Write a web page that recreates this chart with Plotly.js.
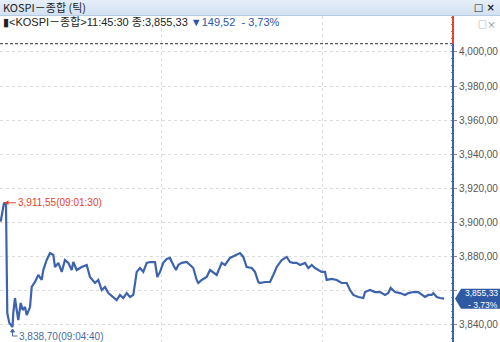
<!DOCTYPE html>
<html><head><meta charset="utf-8">
<script src="https://cdn.plot.ly/plotly-3.0.1.min.js"></script>
<style>
html,body{margin:0;padding:0;background:#fff;width:500px;height:342px;overflow:hidden;}
#bar{position:absolute;left:0;top:0;width:500px;height:15px;background:linear-gradient(#e6eff9,#d2e1f1);border-bottom:1px solid #b7cbe3;font-family:"Noto Sans CJK KR","Liberation Sans",sans-serif;font-size:11px;line-height:15px;color:#222;}
#bar .t{position:absolute;left:3px;top:0;}
#bar .b{position:absolute;right:5px;top:1px;font-weight:bold;font-size:10px;line-height:13px;font-family:"DejaVu Sans",sans-serif;}
#chart{position:absolute;left:0;top:16px;width:500px;height:326px;}
</style></head>
<body>
<div id="bar"><span class="t">KOSPI－종합 (틱)</span><span class="b">□ ×</span></div>
<div id="chart"></div>
<script>
// ---- data ----
const day = "2025-11-04";
const times = ["09:00:16","09:01:30","09:02:14","09:02:30","09:02:43","09:03:28","09:04:40","09:04:57","09:05:35","09:06:13","09:06:49","09:07:43","09:08:28","09:09:19","09:09:57","09:11:11","09:11:49","09:13:03","09:14:16","09:15:32","09:16:08","09:17:24","09:18:38","09:19:52","09:20:30","09:21:44","09:23:00","09:24:13","09:25:27","09:26:43","09:27:19","09:28:35","09:30:27","09:32:19","09:33:32","09:35:24","09:36:38","09:37:54","09:39:08","09:40:22","09:42:13","09:43:29","09:44:43","09:45:57","09:47:13","09:48:27","09:49:41","09:50:19","09:50:57","09:52:10","09:53:24","09:54:40","09:55:54","09:57:46","09:58:37","09:59:38","10:00:51","10:02:07","10:03:21","10:04:35","10:05:35","10:06:27","10:07:43","10:09:35","10:10:48","10:12:02","10:13:18","10:13:54","10:15:10","10:17:02","10:18:16","10:19:29","10:20:45","10:22:37","10:23:51","10:25:43","10:27:35","10:29:26","10:30:40","10:31:56","10:33:48","10:35:02","10:36:16","10:36:54","10:38:45","10:40:37","10:41:51","10:43:07","10:44:59","10:46:51","10:48:04","10:49:18","10:50:34","10:51:48","10:53:40","10:54:54","10:56:10","10:57:23","10:58:37","10:59:53","11:01:07","11:01:45","11:03:37","11:05:29","11:07:20","11:09:12","11:10:26","11:11:40","11:13:32","11:15:24","11:16:01","11:17:53","11:19:45","11:21:37","11:23:29","11:24:42","11:25:36","11:27:12","11:29:04","11:30:56","11:32:10","11:34:01","11:35:53","11:37:09","11:38:23","11:39:37","11:40:53","11:41:29","11:42:45","11:43:58","11:45:30"];
const values = [3900.5,3911.55,3910.3,3885.6,3846.9,3841.1,3838.70,3846.9,3855.7,3848.7,3842.8,3852.8,3848.7,3850.4,3845.7,3850.4,3862.2,3865.1,3869.2,3866.3,3872.1,3878.0,3882.1,3880.9,3873.9,3876.3,3871.0,3878.0,3876.3,3872.1,3876.8,3872.1,3873.9,3875.1,3868.0,3864.5,3866.3,3860.4,3862.2,3858.6,3856.3,3854.5,3857.5,3855.7,3858.6,3856.3,3857.5,3864.5,3871.0,3873.3,3871.0,3876.3,3876.8,3876.8,3868.0,3871.0,3876.3,3878.6,3879.2,3875.1,3872.1,3875.1,3876.3,3876.8,3875.1,3873.3,3866.3,3864.5,3866.3,3868.0,3872.1,3870.4,3869.2,3876.3,3875.1,3879.2,3880.9,3882.1,3879.8,3873.9,3873.3,3871.0,3865.1,3864.5,3865.1,3865.1,3869.2,3873.9,3878.0,3879.8,3876.8,3876.3,3876.3,3875.1,3876.3,3873.3,3875.1,3873.3,3872.1,3871.0,3871.0,3866.3,3866.9,3866.3,3864.5,3864.5,3860.4,3857.5,3856.3,3855.7,3859.2,3860.4,3859.2,3859.2,3857.5,3858.6,3861.6,3859.2,3858.6,3857.5,3858.6,3859.2,3859.2,3857.5,3856.3,3857.5,3857.5,3858.6,3856.3,3855.7,3855.33];
const prevClose = 3855.33 + 149.52;
const changeText = "▼149,52  - 3,73%";
const pctText = "- 3,73%";
const tickVals = [3840,3860,3880,3900,3920,3940,3960,3980,4000];
const tickText = ["3,840,00","","3,880,00","3,900,00","3,920,00","3,940,00","3,960,00","3,980,00","4,000,00"];
const maxTime = "09:01:30", maxVal = 3911.55;
const minTime = "09:04:40", minVal = 3838.70;
const lastTime = "11:45:30";

// ---- helpers ----
const fmt = v => { const s = v.toFixed(2).split("."); return s[0].replace(/\B(?=(\d{3})+(?!\d))/g, ",") + "," + s[1]; };
const dt = t => day + " " + t;
const lastVal = values[values.length-1];
const BLUE = "#3d63ae", RED = "#e8412e";

const trace = {x: times.map(dt), y: values, type: "scatter", mode: "lines",
  line: {color: BLUE, width: 2.2}, hoverinfo: "skip"};

const yTop = 4021.1, yBot = 3829.9;

const layout = {
  width: 500, height: 326,
  margin: {l: 0, r: 47, t: 0, b: 0},
  paper_bgcolor: "#fff", plot_bgcolor: "#fff",
  showlegend: false,
  font: {family: "Liberation Sans, Arial, sans-serif"},
  xaxis: {type: "date", range: [dt("09:00:00"), dt("11:48:49")],
    showticklabels: false, ticks: "", showgrid: true, gridcolor: "#dcdcdc", griddash: "dot",
    dtick: 3600000, tick0: dt("09:00:00"), zeroline: false, showline: false},
  yaxis: {side: "right", range: [yBot, yTop], tickmode: "array", tickvals: tickVals, ticktext: tickText,
    showgrid: true, gridcolor: "#dcdcdc", griddash: "dot", zeroline: false, showline: false,
    ticks: "outside", ticklen: 3, tickcolor: "#888", tickwidth: 1,
    tickfont: {size: 10, color: "#555", family: "Liberation Sans, Arial, sans-serif"},
    minor: {ticks: "inside", ticklen: 2, dtick: 4, tick0: 3840, tickcolor: "#6d87bf", showgrid: false}},
  shapes: [
    {type: "line", xref: "paper", yref: "y", x0: 0, x1: 1, y0: prevClose, y1: prevClose,
     line: {color: "#333", width: 1, dash: "3px,2px"}},
    {type: "line", xref: "paper", yref: "y", x0: 1, x1: 1, y0: prevClose, y1: yTop,
     line: {color: RED, width: 2}},
    {type: "line", xref: "paper", yref: "y", x0: 1, x1: 1, y0: yBot, y1: prevClose,
     line: {color: BLUE, width: 2}},
    {type: "path", xref: "paper", yref: "y", xsizemode: "pixel", ysizemode: "pixel",
     xanchor: 1, yanchor: lastVal, path: "M2,0 L8,10 L47,10 L47,-10 L8,-10 Z",
     fillcolor: "#2f5aa3", line: {width: 0}},
    {type: "path", xref: "x", yref: "y", xsizemode: "pixel", ysizemode: "pixel",
     xanchor: dt(minTime), yanchor: minVal, path: "M0,-3 L0,-9 L5,-9",
     line: {color: "#4a6aa5", width: 1}},
    {type: "path", xref: "x", yref: "y", xsizemode: "pixel", ysizemode: "pixel",
     xanchor: dt(minTime), yanchor: minVal, path: "M-2,-5 L0,-2 L2,-5 Z",
     fillcolor: "#4a6aa5", line: {color: "#4a6aa5", width: 1}}
  ],
  annotations: [
    {xref: "paper", yref: "paper", x: 0, y: 0.982, xanchor: "left", yanchor: "middle", showarrow: false,
     xshift: 1,
     text: "▮&lt;KOSPI－종합&gt;" + lastTime + " 종:" + fmt(lastVal) + " <span style='color:#2b55a8'>" + changeText + "</span>",
     font: {size: 11, color: "#222", family: "Liberation Sans, Noto Sans CJK KR, sans-serif"}},
    {xref: "paper", yref: "paper", x: 1, y: 0.975, xanchor: "right", yanchor: "middle", showarrow: false,
     xshift: 44, borderpad: 0, text: "□×", font: {size: 9, color: "#777", family: "Noto Sans CJK KR"}},
    {x: dt(maxTime), y: maxVal, text: fmt(maxVal) + "(" + maxTime + ")", showarrow: true,
     arrowhead: 2, arrowsize: 0.9, arrowwidth: 1, arrowcolor: RED, ax: 12, ay: 0,
     xanchor: "left", yanchor: "middle", font: {size: 10, color: RED}},
    {x: dt(minTime), y: minVal, text: fmt(minVal) + "(" + minTime + ")", showarrow: false,
     xanchor: "left", yanchor: "middle", xshift: 4, yshift: -9, font: {size: 10, color: "#4a6aa5"}},
    {xref: "paper", x: 1, y: lastVal, text: fmt(lastVal), showarrow: false, xanchor: "right",
     yanchor: "bottom", xshift: 46, yshift: 0, borderpad: 0, font: {size: 8.5, color: "#fff"}},
    {xref: "paper", x: 1, y: lastVal, text: pctText, showarrow: false, xanchor: "right",
     yanchor: "top", xshift: 46, yshift: 0, borderpad: 0, font: {size: 8.5, color: "#fff"}}
  ]
};

Plotly.newPlot("chart", [trace], layout, {displayModeBar: false, staticPlot: true});
</script>
</body></html>
